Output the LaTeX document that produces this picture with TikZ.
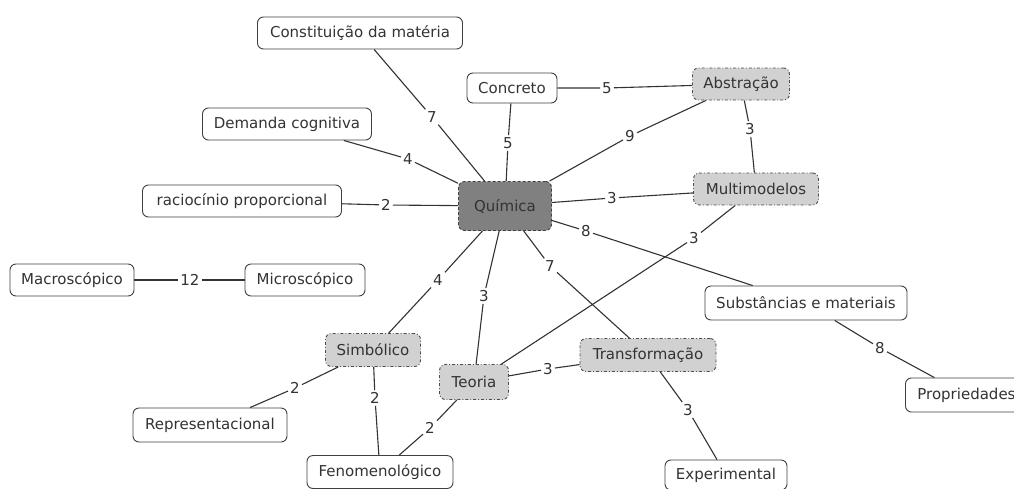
\documentclass[tikz,border=0pt]{standalone}
\usepackage{fontspec}
\setmainfont{DejaVu Sans}
\begin{document}
\begin{tikzpicture}[x=1pt,y=-1pt,
  every node/.style={font=\fontsize{15}{17}\selectfont, text=black!80},
  concept/.style={draw=black!75, line width=0.9pt, rounded corners=6pt, fill=white,
    minimum height=32pt, inner xsep=5pt},
  hub/.style={concept, fill=black!18, dash dot, draw=black!70},
  core/.style={concept, fill=black!50, densely dashed, draw=black!75, minimum height=49pt, minimum width=93pt},
  lbl/.style={inner sep=2pt, font=\fontsize{15}{17}\selectfont},
  link/.style={draw=black!80, line width=1.1pt}
]
\clip (0,0) rectangle (1014,488);
\fill[white] (0,0) rectangle (1014,488);

% concepts
\node[core] (qui) at (505,206) {Química};
\node[concept, minimum width=205pt] (con) at (360,33) {Constituição da matéria};
\node[concept, minimum width=90pt, minimum height=30pt] (conc) at (512,88) {Concreto};
\node[hub, minimum width=97pt] (abs) at (741,84) {Abstração};
\node[concept, minimum width=169pt] (dem) at (287,124) {Demanda cognitiva};
\node[concept, minimum width=199pt] (rac) at (242,201) {raciocínio proporcional};
\node[hub, minimum width=125pt] (mul) at (756,189) {Multimodelos};
\node[concept, minimum width=124pt] (mac) at (72,280) {Macroscópico};
\node[concept, minimum width=120pt] (mic) at (305,280) {Microscópico};
\node[concept, minimum width=202pt, minimum height=34pt] (sub) at (806,303) {Substâncias e materiais};
\node[hub, minimum width=95pt, minimum height=33pt] (sim) at (373,350) {Simbólico};
\node[hub, minimum width=136pt, minimum height=33pt] (tra) at (648,355) {Transformação};
\node[hub, minimum width=69pt, minimum height=35pt] (teo) at (474,382) {Teoria};
\node[concept, minimum width=154pt, minimum height=34pt] (rep) at (210,425) {Representacional};
\node[concept, minimum width=122pt, minimum height=34pt, anchor=west, inner xsep=7pt] (pro) at (905,395) {Propriedades};
\node[concept, minimum width=146pt, minimum height=33pt] (fen) at (380,472) {Fenomenológico};
\node[concept, minimum width=122pt, minimum height=30pt] (exp) at (726,475) {Experimental};

% link labels
\node[lbl] (l1) at (432,117) {7};
\node[lbl] (l2) at (508,143) {5};
\node[lbl] (l3) at (607,88) {5};
\node[lbl] (l4) at (630,136) {9};
\node[lbl] (l5) at (750,129) {3};
\node[lbl] (l6) at (408,159) {4};
\node[lbl] (l7) at (386,205) {2};
\node[lbl] (l8) at (612,198) {3};
\node[lbl] (l9) at (694,238) {3};
\node[lbl] (l10) at (586,231) {8};
\node[lbl] (l11) at (438,280) {4};
\node[lbl] (l12) at (484,296) {3};
\node[lbl] (l13) at (550,266) {7};
\node[lbl] (l14) at (190,280) {12};
\node[lbl] (l15) at (880,348) {8};
\node[lbl] (l16) at (295,388) {2};
\node[lbl] (l17) at (375,398) {2};
\node[lbl] (l18) at (430,428) {2};
\node[lbl] (l19) at (548,369) {3};
\node[lbl] (l20) at (688,410) {3};

% links
\path[link] (con) -- (l1) -- (qui);
\path[link] (conc) -- (l2) -- (qui);
\path[link] (conc) -- (l3) -- (abs);
\path[link] (abs) -- (l4) -- (qui);
\path[link] (abs) -- (l5) -- (mul);
\path[link] (dem) -- (l6) -- (qui);
\path[link] (rac) -- (l7) -- (qui);
\path[link] (qui) -- (l8) -- (mul);
\path[link] (mul) -- (l9) -- (teo);
\path[link] (qui) -- (l10) -- (sub);
\path[link] (qui) -- (l11) -- (sim);
\path[link] (qui) -- (l12) -- (teo);
\path[link] (qui) -- (l13) -- (tra);
\path[link] (mac) -- (l14) -- (mic);
\path[link] (sub) -- (l15) -- (pro);
\path[link] (sim) -- (l16) -- (rep);
\path[link] (sim) -- (l17) -- (fen);
\path[link] (teo) -- (l18) -- (fen);
\path[link] (teo) -- (l19) -- (tra);
\path[link] (tra) -- (l20) -- (exp);
\end{tikzpicture}
\end{document}
